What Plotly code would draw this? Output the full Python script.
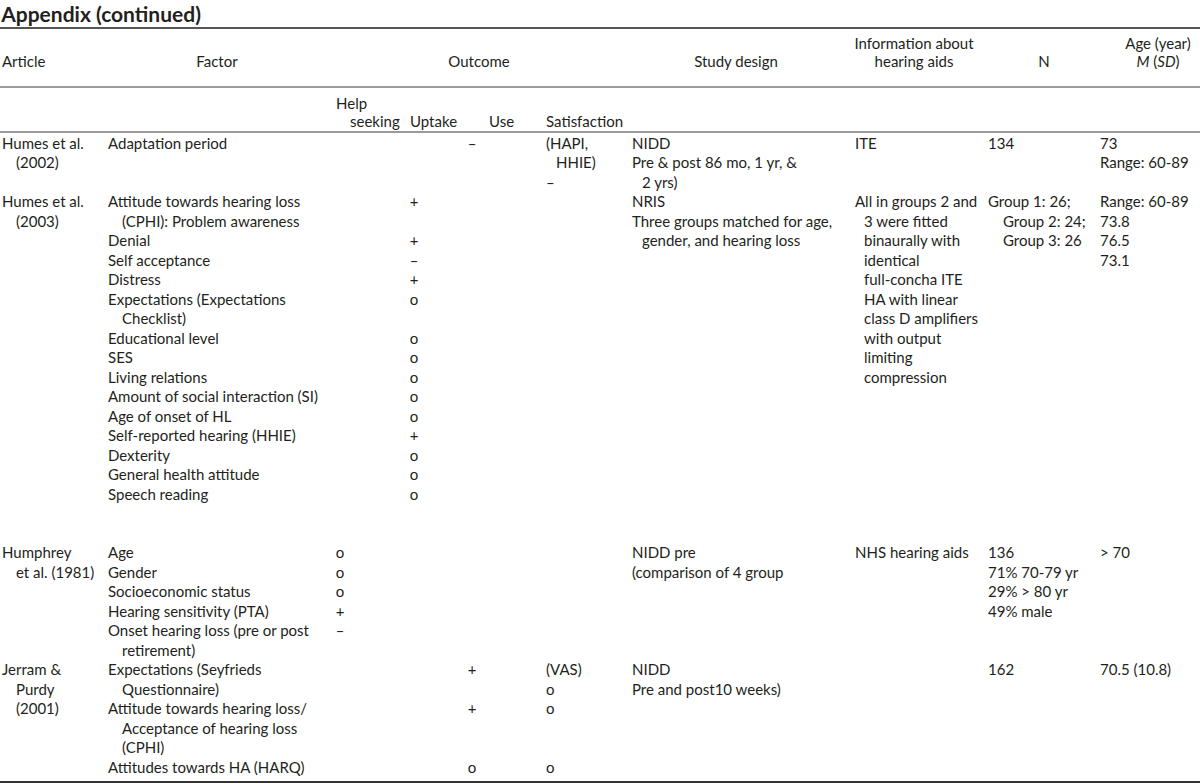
import plotly.graph_objects as go

# ---------------- table content ----------------
# "\n" breaks a cell into lines, a leading "\t" marks a wrapped (indented) line
title_text = 'Appendix (continued)'

articles = ['Humes et al.\n\t(2002)',
            'Humes et al.\n\t(2003)',
            'Humphrey\n\tet al. (1981)',
            'Jerram &\n\tPurdy\n\t(2001)']

factors = [
    ['Adaptation period'],
    ['Attitude towards hearing loss\n\t(CPHI): Problem awareness', 'Denial',
     'Self acceptance', 'Distress', 'Expectations (Expectations\n\tChecklist)',
     'Educational level', 'SES', 'Living relations',
     'Amount of social interaction (SI)', 'Age of onset of HL',
     'Self-reported hearing (HHIE)', 'Dexterity', 'General health attitude',
     'Speech reading'],
    ['Age', 'Gender', 'Socioeconomic status', 'Hearing sensitivity (PTA)',
     'Onset hearing loss (pre or post\n\tretirement)'],
    ['Expectations (Seyfrieds\n\tQuestionnaire)',
     'Attitude towards hearing loss/\n\tAcceptance of hearing loss\n\t(CPHI)',
     'Attitudes towards HA (HARQ)'],
]

help_seeking = [[''], [''] * 14, ['o', 'o', 'o', '+', '–'], [''] * 3]
uptake = [[''],
          ['+', '+', '–', '+', 'o', 'o', 'o', 'o', 'o', 'o', '+', 'o', 'o', 'o'],
          [''] * 5, [''] * 3]
use = [['–'], [''] * 14, [''] * 5, ['+', '+', 'o']]
satisfaction = [['(HAPI,\n\tHHIE)\n–'], [''] * 14, [''] * 5, ['(VAS)\no', 'o', 'o']]

study_design = ['NIDD\nPre & post 86 mo, 1 yr, &\n\t2 yrs)',
                'NRIS\nThree groups matched for age,\n\tgender, and hearing loss',
                'NIDD pre\n(comparison of 4 group',
                'NIDD\nPre and post10 weeks)']

ha_info = ['ITE',
           'All in groups 2 and\n\t3 were fitted\n\tbinaurally with\n\tidentical\n'
           '\tfull-concha ITE\n\tHA with linear\n\tclass D amplifiers\n'
           '\twith output\n\tlimiting\n\tcompression',
           'NHS hearing aids',
           '']

n_sample = ['134',
            'Group 1: 26;\n\tGroup 2: 24;\n\tGroup 3: 26',
            '136\n71% 70-79 yr\n29% > 80 yr\n49% male',
            '162']

age = ['73\nRange: 60-89',
       'Range: 60-89\n73.8\n76.5\n73.1',
       '> 70',
       '70.5 (10.8)']

header_main = ['Article', 'Factor', 'Outcome', 'Study design',
               'Information about\nhearing aids', 'N', 'Age (year)\n<i>M</i> (<i>SD</i>)']
header_outcome = ['Help\n\tseeking', 'Uptake', 'Use', 'Satisfaction']

# ---------------- page geometry & style ----------------
FONT = 'Lato'
SIZE = 15
INK = '#231f20'
LINE_PX = 19.5          # one text line, in pixels
FIRST_PX = 145          # centre of the first body line
W, H = 1200, 784
block_gap = [0, 2, 0, 0]  # blank lines after each article


def px(y):
    # pixel row -> text-line units on the y axis
    return (y - FIRST_PX) / LINE_PX


# (x, hanging indent, align)
col_article = (2, 14, 'left')
col_factor = (108, 14, 'left')
col_help = (340, 0, 'center')
col_uptake = (414, 0, 'center')
col_use = (472, 0, 'center')
col_satis = (546, 10, 'left')
col_design = (632, 10, 'left')
col_info = (855, 9, 'left')
col_n = (988, 15, 'left')
col_age = (1100, 0, 'left')

head_main_x = [(2, 'left'), (217, 'center'), (479, 'center'), (736, 'center'),
               (914, 'center'), (1044, 'center'), (1158, 'center')]
head_main_y = [63, 63, 63, 63, 45, 63, 45]
head_out_x = [336, 410, 489, 546]
head_out_y = [105, 123, 123, 123]
outcome_indent = 14

rules = [(28, '#555555', 2), (87, '#7a7a7a', 1.5), (132, '#7a7a7a', 1.5), (782, '#333333', 2)]


def n_lines(text):
    return len(text.split('\n')) if text else 0


left_x, left_y, left_t = [], [], []
mid_x, mid_y, mid_t = [], [], []


def put(text, col, first):
    if not text:
        return
    x0, indent, align = col
    for k, line in enumerate(text.split('\n')):
        x = x0
        if line.startswith('\t'):
            x, line = x0 + indent, line[1:]
        if align == 'left':
            left_x.append(x); left_y.append(first + k); left_t.append(line)
        else:
            mid_x.append(x); mid_y.append(first + k); mid_t.append(line)


# body rows
line = 0
for s in range(len(articles)):
    start = line
    for f in range(len(factors[s])):
        cells = [factors[s][f], help_seeking[s][f], uptake[s][f], use[s][f], satisfaction[s][f]]
        for text, col in zip(cells, [col_factor, col_help, col_uptake, col_use, col_satis]):
            put(text, col, line)
        line += max(n_lines(c) for c in cells)
    for text, col in zip([articles[s], study_design[s], ha_info[s], n_sample[s], age[s]],
                         [col_article, col_design, col_info, col_n, col_age]):
        put(text, col, start)
    block = max([line - start] + [n_lines(c) for c in
                 (articles[s], study_design[s], ha_info[s], n_sample[s], age[s])])
    line = start + block + block_gap[s]

# header rows
for text, (x, align), y in zip(header_main, head_main_x, head_main_y):
    for k, part in enumerate(text.split('\n')):
        put(part, (x, 0, align), px(y) + k * (18 / LINE_PX))
for text, x, y in zip(header_outcome, head_out_x, head_out_y):
    for k, part in enumerate(text.split('\n')):
        xx = x
        if part.startswith('\t'):
            xx, part = x + outcome_indent, part[1:]
        put(part, (xx, 0, 'left'), px(y) + k * (18 / LINE_PX))

fig = go.Figure()
fig.add_trace(go.Scatter(x=left_x, y=left_y, text=left_t, mode='text',
                         textposition='middle right', hoverinfo='skip',
                         textfont=dict(family=FONT, size=SIZE, color=INK)))
fig.add_trace(go.Scatter(x=mid_x, y=mid_y, text=mid_t, mode='text',
                         textposition='middle center', hoverinfo='skip',
                         textfont=dict(family=FONT, size=SIZE, color=INK)))

for y, color, width in rules:
    fig.add_shape(type='line', xref='paper', yref='y', x0=0, x1=1,
                  y0=px(y), y1=px(y), line=dict(color=color, width=width))

fig.update_layout(
    width=W, height=H, margin=dict(l=0, r=0, t=0, b=0),
    paper_bgcolor='#ffffff', plot_bgcolor='#ffffff', showlegend=False,
    title=dict(text=f'<b>{title_text}</b>', x=0.001, xanchor='left',
               y=1 - 14.5 / H, yanchor='middle',
               font=dict(family=FONT, size=21, color=INK)))
fig.update_xaxes(range=[0, W], visible=False, fixedrange=True)
fig.update_yaxes(range=[px(H), px(0)], visible=False, fixedrange=True)

# the page body has a default 8px margin; drop it so the table fills the window
fig.write_html('out.html', config={'displayModeBar': False},
               post_script="document.body.style.margin='0';")
